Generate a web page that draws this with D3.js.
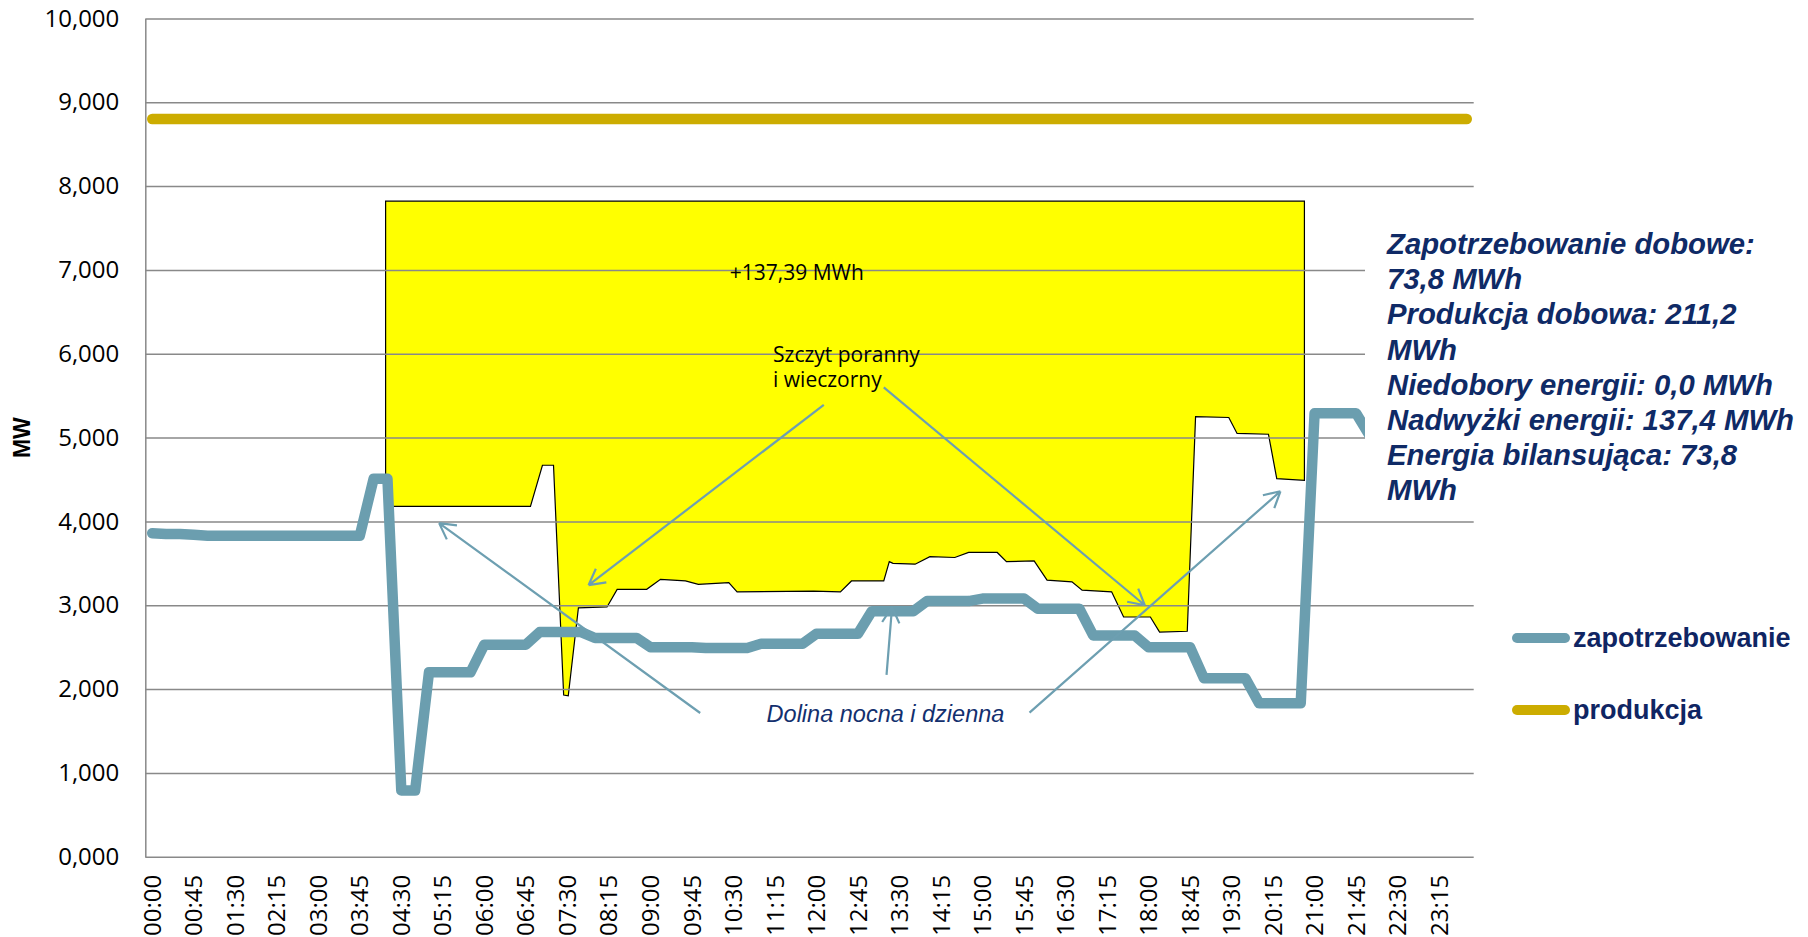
<!DOCTYPE html>
<meta charset="utf-8">
<style>
body {
  margin: 0;
  background: #fff;
}
svg {
  display: block;
  font-family: "Open Sans", sans-serif;
}
.axis text {
  font-family: "Open Sans", sans-serif;
  font-size: 24px;
  fill: #000;
}
.axis line, .axis path {
  stroke: #898989;
  stroke-width: 1.5;
}
.note {
  font-size: 21px;
  fill: #000;
}
.valley {
  font: italic 23.5px "Liberation Sans", Arial, sans-serif;
  fill: #13306e;
}
.summary {
  font: italic bold 29.3px "Liberation Sans", Arial, sans-serif;
  fill: #0f2a66;
}
.legend text {
  font: bold 27px "Liberation Sans", Arial, sans-serif;
  fill: #0f2563;
}
</style>
<body>
<script src="https://d3js.org/d3.v7.min.js"></script>
<script>

var width = 1808,
    height = 937;

var plot = {left: 145.3, right: 1473.7, top: 18.4, bottom: 856.8};

// x tick labels, every 45 minutes
var xTickLabels = ["00:00", "00:45", "01:30", "02:15", "03:00", "03:45", "04:30", "05:15",
  "06:00", "06:45", "07:30", "08:15", "09:00", "09:45", "10:30", "11:15",
  "12:00", "12:45", "13:30", "14:15", "15:00", "15:45", "16:30", "17:15",
  "18:00", "18:45", "19:30", "20:15", "21:00", "21:45", "22:30", "23:15"];

var yTicks = [0, 1, 2, 3, 4, 5, 6, 7, 8, 9, 10];

// zapotrzebowanie, MW per 15 min slot
var demand = [
  3.86, 3.85, 3.85, 3.84, 3.83, 3.83, 3.83, 3.83, 3.83, 3.83, 3.83, 3.83,
  3.83, 3.83, 3.83, 3.83, 4.51, 4.51, 0.79, 0.79, 2.20, 2.20, 2.20, 2.20,
  2.53, 2.53, 2.53, 2.53, 2.68, 2.68, 2.68, 2.68, 2.61, 2.61, 2.61, 2.61,
  2.50, 2.50, 2.50, 2.50, 2.49, 2.49, 2.49, 2.49, 2.54, 2.54, 2.54, 2.54,
  2.66, 2.66, 2.66, 2.66, 2.93, 2.93, 2.93, 2.93, 3.05, 3.05, 3.05, 3.05,
  3.08, 3.08, 3.08, 3.08, 2.96, 2.96, 2.96, 2.96, 2.64, 2.64, 2.64, 2.64,
  2.50, 2.50, 2.50, 2.50, 2.13, 2.13, 2.13, 2.13, 1.83, 1.83, 1.83, 1.83,
  5.29, 5.29, 5.29, 5.29, 5.02
];

// produkcja, MW per 15 min slot
var production = [
  8.8, 8.8, 8.8, 8.8, 8.8, 8.8, 8.8, 8.8, 8.8, 8.8, 8.8, 8.8,
  8.8, 8.8, 8.8, 8.8, 8.8, 8.8, 8.8, 8.8, 8.8, 8.8, 8.8, 8.8,
  8.8, 8.8, 8.8, 8.8, 8.8, 8.8, 8.8, 8.8, 8.8, 8.8, 8.8, 8.8,
  8.8, 8.8, 8.8, 8.8, 8.8, 8.8, 8.8, 8.8, 8.8, 8.8, 8.8, 8.8,
  8.8, 8.8, 8.8, 8.8, 8.8, 8.8, 8.8, 8.8, 8.8, 8.8, 8.8, 8.8,
  8.8, 8.8, 8.8, 8.8, 8.8, 8.8, 8.8, 8.8, 8.8, 8.8, 8.8, 8.8,
  8.8, 8.8, 8.8, 8.8, 8.8, 8.8, 8.8, 8.8, 8.8, 8.8, 8.8, 8.8,
  8.8, 8.8, 8.8, 8.8, 8.8, 8.8, 8.8, 8.8, 8.8, 8.8, 8.8, 8.8
];

// yellow surplus band: minutes of the day, lower edge in MW, flat top
var surplusMinutes = [253, 410, 423, 435, 446, 451, 462, 493, 504, 536,
  551, 578, 592, 625, 634, 717, 746, 758, 793, 799,
  803, 827, 843, 870, 885, 916, 926, 956, 970, 997,
  1008, 1040, 1053, 1082, 1092, 1122, 1131, 1167, 1176, 1210,
  1219, 1249];
var surplusFloor = [4.18, 4.18, 4.67, 4.67, 1.93, 1.92, 2.97, 2.98, 3.19, 3.19,
  3.31, 3.29, 3.25, 3.27, 3.16, 3.17, 3.16, 3.29, 3.29, 3.52,
  3.50, 3.49, 3.58, 3.57, 3.63, 3.63, 3.52, 3.53, 3.30, 3.28,
  3.18, 3.16, 2.86, 2.86, 2.68, 2.69, 5.25, 5.24, 5.05, 5.04,
  4.51, 4.49];
var surplusCeiling = 7.82;

var summaryLines = ["Zapotrzebowanie dobowe:", "73,8 MWh", "Produkcja dobowa: 211,2", "MWh",
  "Niedobory energii: 0,0 MWh", "Nadwyżki energii: 137,4 MWh", "Energia bilansująca: 73,8", "MWh"];

var seriesNames = ["zapotrzebowanie", "produkcja"];
var seriesColors = ["#6b9eaf", "#ccac00"];

// annotations in [minute, MW]
var notes = [
  {text: "+137,39 MWh", at: [626, 6.88]},
  {text: "Szczyt poranny", at: [673, 5.905]},
  {text: "i wieczorny", at: [673, 5.607]}
];
var arrows = [
  {from: [728, 5.39], to: [473, 3.24]},
  {from: [793, 5.60], to: [1076, 3.00]},
  {from: [594, 1.715], to: [311, 3.98]},
  {from: [796, 2.17], to: [802, 2.98]},
  {from: [951, 1.72], to: [1223, 4.36]}
];

var slots = d3.range(96).map(function(i) {
  var m = i * 15;
  return d3.format("02")(Math.floor(m / 60)) + ":" + d3.format("02")(m % 60);
});

var pl = d3.formatLocale({decimal: ",", thousands: " ", grouping: [3], currency: ["", " zł"]});

var x = d3.scaleBand()
    .domain(slots)
    .range([plot.left, plot.right]);

function cx(i) { return x(slots[i]) + x.bandwidth() / 2; }

// minutes -> px, lined up with the band centres
var xMin = d3.scaleLinear()
    .domain([-7.5, 1432.5])
    .range([plot.left, plot.right]);

var y = d3.scaleLinear()
    .domain([0, 10])
    .range([plot.bottom, plot.top]);

var svg = d3.select("body").append("svg")
    .attr("width", width)
    .attr("height", height);

// surplus band
var surplus = surplusMinutes.map(function(m, i) { return {t: m, low: surplusFloor[i]}; });

svg.append("path")
    .datum(surplus)
    .attr("fill", "#ffff00")
    .attr("stroke", "#000")
    .attr("stroke-width", 1.2)
    .attr("d", d3.area()
      .x(function(d) { return xMin(d.t); })
      .y0(function(d) { return y(d.low); })
      .y1(y(surplusCeiling)));

// y axis + gridlines
var yAxis = svg.append("g")
    .attr("class", "axis")
    .attr("transform", "translate(" + plot.left + ",0)")
    .call(d3.axisLeft(y)
      .tickValues(yTicks)
      .tickSize(-(plot.right - plot.left))
      .tickSizeOuter(0)
      .tickPadding(26)
      .tickFormat(pl.format(".3f")));

yAxis.attr("font-size", null);

// x axis labels
var xAxis = svg.append("g")
    .attr("class", "axis")
    .attr("transform", "translate(0," + plot.bottom + ")")
    .call(d3.axisBottom(x).tickValues(xTickLabels).tickSize(0));

xAxis.attr("font-size", null);
xAxis.select(".domain").remove();
xAxis.selectAll("text")
    .attr("transform", "rotate(-90)")
    .attr("x", -18)
    .attr("y", 0)
    .attr("dy", "0.36em")
    .style("text-anchor", "end");

svg.append("text")
    .attr("transform", "translate(30," + y(5) + ") rotate(-90)")
    .attr("text-anchor", "middle")
    .style("font", "bold 23px 'Liberation Sans', Arial, sans-serif")
    .text("MW");

svg.selectAll(".note")
    .data(notes)
  .enter().append("text")
    .attr("class", "note")
    .attr("x", function(d) { return xMin(d.at[0]); })
    .attr("y", function(d) { return y(d.at[1]); })
    .text(function(d) { return d.text; });

// series lines
var line = d3.line()
    .x(function(d, i) { return cx(i); })
    .y(function(d) { return y(d); });

svg.append("path")
    .datum(demand)
    .attr("fill", "none")
    .attr("stroke", seriesColors[0])
    .attr("stroke-width", 10.5)
    .attr("stroke-linejoin", "round")
    .attr("stroke-linecap", "round")
    .attr("d", line);

svg.append("path")
    .datum(production)
    .attr("fill", "none")
    .attr("stroke", seriesColors[1])
    .attr("stroke-width", 10.5)
    .attr("stroke-linejoin", "round")
    .attr("stroke-linecap", "round")
    .attr("d", line);

// arrows
function arrowPath(a) {
  var x1 = xMin(a.from[0]), y1 = y(a.from[1]),
      x2 = xMin(a.to[0]), y2 = y(a.to[1]);
  var ang = Math.atan2(y2 - y1, x2 - x1), len = 18;
  var p = "M" + x1 + "," + y1 + "L" + x2 + "," + y2;
  [-0.5, 0.5].forEach(function(s) {
    p += "M" + x2 + "," + y2 + "L" + (x2 - len * Math.cos(ang + s)) + "," + (y2 - len * Math.sin(ang + s));
  });
  return p;
}

svg.selectAll(".arrow")
    .data(arrows)
  .enter().append("path")
    .attr("class", "arrow")
    .attr("fill", "none")
    .attr("stroke", "#6d9fb1")
    .attr("stroke-width", 2.2)
    .attr("d", arrowPath);

svg.append("text")
    .attr("class", "valley")
    .attr("x", xMin(666))
    .attr("y", y(1.611))
    .text("Dolina nocna i dzienna");

// summary box
svg.append("rect")
    .attr("x", 1365)
    .attr("y", 198)
    .attr("width", width - 1365)
    .attr("height", 315)
    .attr("fill", "#fff");

svg.selectAll(".summary")
    .data(summaryLines)
  .enter().append("text")
    .attr("class", "summary")
    .attr("x", 1387)
    .attr("y", function(d, i) { return 254 + i * 35.2; })
    .text(function(d) { return d; });

// legend
var legend = svg.selectAll(".legend")
    .data(seriesNames)
  .enter().append("g")
    .attr("class", "legend")
    .attr("transform", function(d, i) { return "translate(1517," + (638 + i * 72) + ")"; });

legend.append("line")
    .attr("x1", 0)
    .attr("x2", 48)
    .attr("stroke", function(d, i) { return seriesColors[i]; })
    .attr("stroke-width", 10)
    .attr("stroke-linecap", "round");

legend.append("text")
    .attr("x", 56)
    .attr("y", 8.5)
    .text(function(d) { return d; });

</script>
